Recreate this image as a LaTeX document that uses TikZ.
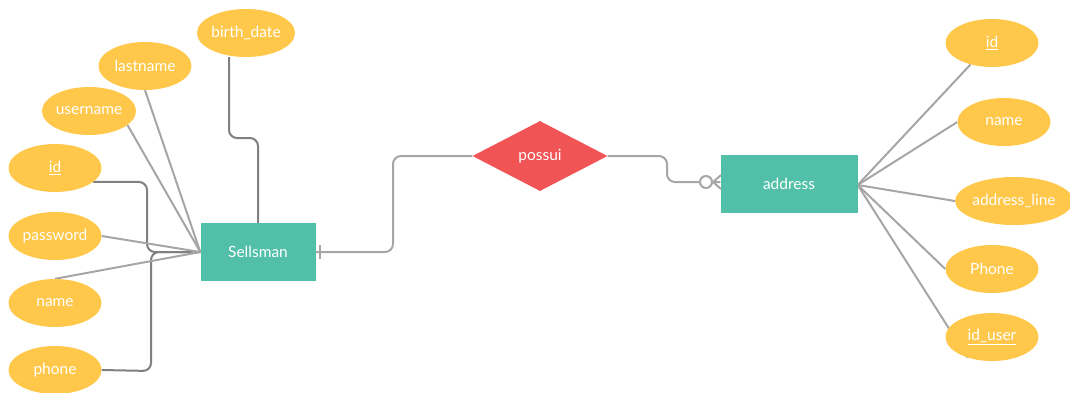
\documentclass[tikz,border=0pt]{standalone}
\usepackage{fontspec}
\setmainfont{Lato}
\usetikzlibrary{shapes.geometric,backgrounds}
\definecolor{attr}{HTML}{FFC84A}
\definecolor{ent}{HTML}{52C0A9}
\definecolor{relc}{HTML}{F05454}
\definecolor{lgray}{HTML}{A6A6A6}
\definecolor{dgray}{HTML}{808080}
\tikzset{
  txt/.style={text=white,font=\fontsize{15.5}{18}\selectfont},
  attrnode/.style={ellipse,fill=attr,draw=none,inner sep=0pt,minimum width=93pt,minimum height=48pt,txt},
  entnode/.style={rectangle,fill=ent,draw=none,inner sep=0pt,minimum height=58pt,txt},
  relnode/.style={diamond,fill=relc,draw=none,inner sep=0pt,minimum width=135pt,minimum height=70pt,txt},
  lline/.style={draw=lgray,line width=2pt},
  dline/.style={draw=dgray,line width=2pt,rounded corners=8pt},
  rline/.style={draw=lgray,line width=2pt,rounded corners=8pt},
}
\begin{document}
\begin{tikzpicture}[x=1pt,y=-1pt]
\useasboundingbox (0,0) rectangle (1070,392);
% entities
\node[entnode,minimum width=115pt] (sell) at (258,252) {Sellsman};
\node[entnode,minimum width=137pt] (addr) at (789,184) {address};
\node[relnode] (rel) at (540,156) {possui};
% left attributes
\node[attrnode] (birth) at (246,33) {birth\_date};
\node[attrnode] (last) at (145,66) {lastname};
\node[attrnode] (user) at (89,111) {username};
\node[attrnode] (sid) at (55,168) {\underline{id}};
\node[attrnode] (pass) at (55,236) {password};
\node[attrnode] (sname) at (55,303) {name};
\node[attrnode] (phone) at (55,370) {phone};
% right attributes
\node[attrnode] (aid) at (992,43) {\underline{id}};
\node[attrnode] (aname) at (1004,122) {name};
\node[attrnode,minimum width=113pt] (aline) at (1014,201) {address\_line};
\node[attrnode] (aphone) at (992,269) {Phone};
\node[attrnode] (auser) at (992,337) {\underline{id\_user}};
\coordinate (sw) at (sell.west);
\coordinate (ae) at ([yshift=-1pt]addr.east);
\begin{scope}[on background layer]
\draw[dline] ([xshift=-17pt]birth.south) -- (229,138) -- (258,138) -- (sell.north);
\draw[dline] (sid.-20) -- (147,182) -- (147,252) -- (sw);
\draw[dline] (phone.east) -- (151,371) -- (151,252) -- (sw);
\draw[lline] (last.south) -- (sw);
\draw[lline] (user.-20) -- (sw);
\draw[lline] (pass.east) -- (sw);
\draw[lline] (sname.north) -- (sw);
\draw[lline] (ae) -- (aid.-135);
\draw[lline] (ae) -- (aname.west);
\draw[lline] (ae) -- (aline.west);
\draw[lline] (ae) -- (aphone.west);
\draw[lline] (ae) -- (auser.-140);
\draw[rline] (sell.east) -- (393,252) -- (393,156) -- (rel.west);
\draw[rline] (rel.east) -- (667,156) -- (667,182) -- ([yshift=2pt]addr.west);
\end{scope}
% one marker
\coordinate (bar) at (320,252);
\draw[lgray,line width=2pt] ([yshift=-7pt]bar) -- ([yshift=7pt]bar);
% zero-or-many marker
\coordinate (circ) at (706,182);
\draw[lgray,line width=2pt,fill=white] (circ) circle (6pt);
\coordinate (apex) at (713,182);
\draw[lgray,line width=2pt] (apex) -- (721,175);
\draw[lgray,line width=2pt] (apex) -- (721,189);
\end{tikzpicture}
\end{document}
